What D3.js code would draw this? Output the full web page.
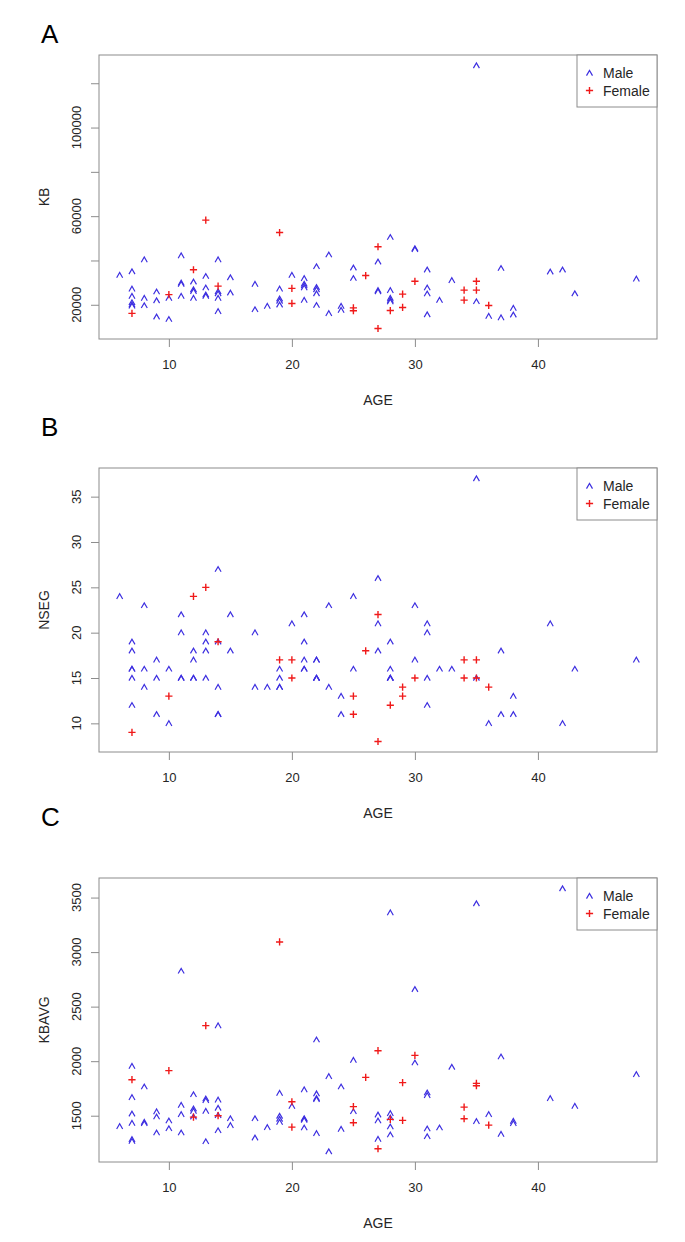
<!DOCTYPE html>
<html>
<head>
<meta charset="utf-8">
<script src="https://cdn.jsdelivr.net/npm/d3@7/dist/d3.min.js"></script>
<style>
  html, body { margin: 0; padding: 0; background: #fff; }
  svg { display: block; }
  text { font-family: "Liberation Sans", Arial, sans-serif; }
</style>
</head>
<body>
<svg id="chart" width="685" height="1242"></svg>
<script>
// ---------------- DATA ----------------
const maleAge = [6,
  7,7,7,7,7,7, 8,8,8, 9,9,9, 10,10, 11,11,11,11, 12,12,12,12, 13,13,13,13,
  14,14,14,14,14, 15,15, 17,17, 18, 19,19,19,19, 20, 21,21,21,21,21,
  22,22,22,22,22, 23,23, 24,24, 25,25, 27,27,27, 28,28,28,28,28, 30,30,
  31,31,31,31, 32, 33, 35,35, 36, 37,37, 38,38, 41, 42, 43, 48];

const maleKB = [33400,
  35000,27200,23900,21000,20000,19500, 40400,23000,19700, 25900,21900,14600, 23000,13500,
  42200,29900,29300,23900, 30400,26900,26100,23000, 32900,27700,24500,23900,
  40400,26000,25100,23000,17000, 32300,25400, 29300,17900, 19400, 27200,22700,21700,20000, 33400,
  31900,29400,28600,27700,22100, 37300,27900,26900,25100,19800, 42600,16100, 19400,17600,
  36700,32000, 39400,26500,26000, 50500,26500,23000,22100,21400, 45400,45000,
  35800,27700,25000,15600, 22100, 31000, 128000,21500, 14900, 36500,14200, 18500,15500,
  34900, 35800, 25100, 31700];

const maleNSEG = [24,
  19,18,16,16,15,12, 23,16,14, 17,15,11, 16,10, 22,20,15,15, 18,17,15,15, 20,19,18,15,
  27,19,14,11,11, 22,18, 20,14, 14, 16,15,14,14, 21, 22,19,17,16,16,
  17,17,15,15,15, 23,14, 13,11, 24,16, 26,21,18, 19,16,15,15,15, 23,17,
  21,20,15,12, 16, 16, 37,15, 10, 18,11, 13,11, 21, 10, 16, 17];

const maleKBAVG = [1402,
  1955,1668,1518,1432,1283,1267, 1766,1441,1429, 1537,1491,1344, 1454,1383,
  2827,1597,1512,1344, 1695,1564,1542,1490, 1656,1640,1542,1264,
  2326,1645,1570,1503,1365, 1475,1411, 1475,1298, 1393, 1707,1497,1470,1441, 1588,
  1739,1475,1468,1460,1390, 2197,1702,1660,1650,1338, 1861,1172, 1766,1377,
  2010,1539, 1509,1454,1285, 3362,1521,1480,1399,1326, 2659,1986,
  1711,1686,1381,1310, 1390, 1946, 3445,1448, 1512, 2041,1331, 1450,1430,
  1659, 3583, 1588, 1879];

const femaleAge = [7,10,12,13,14,19,20,20,25,25,26,27,27,28,29,29,30,34,34,35,35,36];
const femaleKB = [16100,24600,35800,58200,28400,52600,27400,20600,18600,17300,33200,
  46200,9300,17400,24800,18800,30600,26600,22100,30600,26600,19700];
const femaleNSEG = [9,13,24,25,19,17,17,15,13,11,18,22,8,12,14,13,15,17,15,17,15,14];
const femaleKBAVG = [1830,1913,1487,2326,1500,3093,1628,1395,1583,1436,1851,
  2096,1197,1466,1803,1457,2053,1579,1472,1796,1775,1414];

const xTicks = [10, 20, 30, 40];
const panelLetters = ["A", "B", "C"];
const yTitles = ["KB", "NSEG", "KBAVG"];
const yTicksA = [20000, 40000, 60000, 80000, 100000, 120000];
const yLabelsA = [20000, 60000, 100000];
const yTicksB = [10, 15, 20, 25, 30, 35];
const yTicksC = [1500, 2000, 2500, 3000, 3500];
const legendLabels = ["Male", "Female"];
const xTitle = "AGE";

// ---------------- LAYOUT ----------------
const svg = d3.select("#chart");
const left = 99, right = 657, boxH = 284;
const panels = [
  { top: 55,  letterY: 43,  male: maleKB,    female: femaleKB,    ticks: yTicksA, labels: yLabelsA, fmt: d => String(d) },
  { top: 468, letterY: 436, male: maleNSEG,  female: femaleNSEG,  ticks: yTicksB, labels: yTicksB, fmt: d => String(d) },
  { top: 878, letterY: 826, male: maleKBAVG, female: femaleKBAVG, ticks: yTicksC, labels: yTicksC, fmt: d => String(d) }
];
const blue = "#3d2fe0", red = "#f01a1a";
const axisCol = "#8c8c8c", textCol = "#262626";

function padExtent(vals) {
  const [lo, hi] = d3.extent(vals);
  const p = (hi - lo) * 0.04;
  return [lo - p, hi + p];
}

const allAges = maleAge.concat(femaleAge);
const x = d3.scaleLinear().domain(padExtent(allAges)).range([left, right]);

const caretPath = "M-3,2.6L0,-2.6L3,2.6";
const plusPath = "M-3.6,0H3.6M0,-3.6V3.6";

panels.forEach((p, i) => {
  const bottom = p.top + boxH;
  const y = d3.scaleLinear().domain(padExtent(p.male.concat(p.female))).range([bottom, p.top]);
  const g = svg.append("g");

  // panel letter
  g.append("text").attr("x", 41).attr("y", p.letterY)
    .attr("font-family", "Lato, 'Open Sans', sans-serif")
    .attr("font-size", 26).attr("fill", "#000").text(panelLetters[i]);

  // box
  g.append("rect").attr("x", left).attr("y", p.top)
    .attr("width", right - left).attr("height", boxH)
    .attr("fill", "none").attr("stroke", axisCol).attr("stroke-width", 1);

  // x axis
  const xa = g.append("g").attr("transform", `translate(0,${bottom})`)
    .call(d3.axisBottom(x).tickValues(xTicks).tickSize(8).tickPadding(13).tickFormat(d3.format("d")));
  xa.select(".domain").remove();
  xa.selectAll("line").attr("stroke", axisCol);
  xa.selectAll("text").attr("font-size", 13).attr("fill", textCol)
    .attr("font-family", "'Liberation Sans', Arial, sans-serif");

  // y axis
  const ya = g.append("g").attr("transform", `translate(${left},0)`)
    .call(d3.axisLeft(y).tickValues(p.ticks).tickSize(8).tickFormat(""));
  ya.select(".domain").remove();
  ya.selectAll("line").attr("stroke", axisCol);
  g.selectAll(".ylab").data(p.labels).enter().append("text")
    .attr("transform", d => `translate(80.5,${y(d)}) rotate(-90)`)
    .attr("text-anchor", "middle").attr("font-size", 13).attr("fill", textCol)
    .text(p.fmt);

  // titles
  g.append("text").attr("x", (left + right) / 2).attr("y", bottom + 66)
    .attr("text-anchor", "middle").attr("font-size", 14).attr("fill", textCol).text(xTitle);
  g.append("text").attr("transform", `translate(49,${(p.top + bottom) / 2}) rotate(-90)`)
    .attr("text-anchor", "middle").attr("font-size", 14).attr("fill", textCol).text(yTitles[i]);

  // points
  g.selectAll(".m").data(maleAge.map((a, k) => [a, p.male[k]])).enter().append("path")
    .attr("d", caretPath).attr("transform", d => `translate(${x(d[0])},${y(d[1])})`)
    .attr("fill", "none").attr("stroke", blue).attr("stroke-width", 1.2);
  g.selectAll(".f").data(femaleAge.map((a, k) => [a, p.female[k]])).enter().append("path")
    .attr("d", plusPath).attr("transform", d => `translate(${x(d[0])},${y(d[1])})`)
    .attr("fill", "none").attr("stroke", red).attr("stroke-width", 1.4);

  // legend
  const lg = g.append("g");
  lg.append("rect").attr("x", 577).attr("y", p.top).attr("width", right - 577).attr("height", 52)
    .attr("fill", "#fff").attr("stroke", axisCol).attr("stroke-width", 1);
  legendLabels.forEach((lab, k) => {
    const ly = p.top + 18 + k * 17.5;
    lg.append("path").attr("d", k === 0 ? caretPath : plusPath)
      .attr("transform", `translate(589.5,${ly})`)
      .attr("fill", "none").attr("stroke", k === 0 ? blue : red).attr("stroke-width", k === 0 ? 1.2 : 1.4);
    lg.append("text").attr("x", 603).attr("y", ly + 5).attr("font-size", 14)
      .attr("fill", textCol).text(lab);
  });
});
</script>
</body>
</html>
